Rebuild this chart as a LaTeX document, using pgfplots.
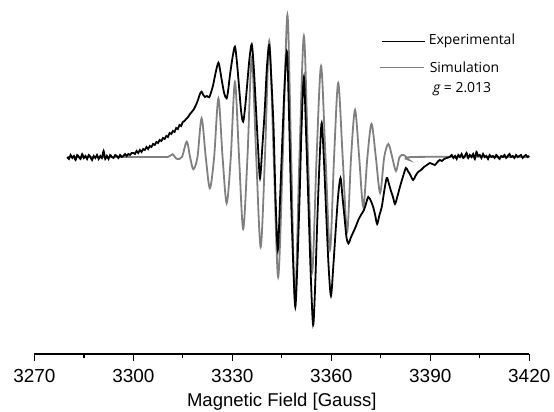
\documentclass[border=0pt]{standalone}
\usepackage{fontspec}
\setmainfont{Liberation Sans}
\newfontfamily\legfont{Open Sans}
\usepackage{pgfplots}
\pgfplotsset{compat=1.18}
\definecolor{simgray}{RGB}{128,128,128}

\begin{document}
\begin{tikzpicture}
\begin{axis}[
  scale only axis,
  width=495bp, height=354bp,
  xmin=3270, xmax=3420,
  ymin=-197, ymax=157,
  axis x line*=bottom,
  axis y line=none,
  axis line style={line width=1.4bp, black},
  xtick={3270,3300,3330,3360,3390,3420},
  minor x tick num=1,
  tick align=outside,
  major tick length=7bp,
  minor tick length=4.5bp,
  every tick/.style={line width=1.4bp, black},
  /pgf/number format/assume math mode=true,
  /pgf/number format/1000 sep={},
  tick label style={font=\fontsize{19}{22}\selectfont},
  xticklabel style={anchor=base, yshift=-21.5bp},
  xlabel={Magnetic Field [Gauss]},
  xlabel style={font=\fontsize{18.6}{22}\selectfont, anchor=base, at={(axis description cs:0.5,0)}, yshift=-53bp},
  clip=false,
]
% simulated spectrum
\addplot[simgray, line width=1.8bp, smooth] coordinates {
  (3280,0) (3308,0) (3310.5,0) (3311.9,2.7) (3312.6,0) (3313.3,-2) (3314.75,0)
  (3316.2,15.3) (3317.2,0) (3318.2,-12.3) (3319.45,0) (3320.7,38.7) (3321.95,0)
  (3323.2,-31.3) (3324.5,0) (3325.8,58.7) (3327.05,0) (3328.3,-46.3) (3329.55,0)
  (3330.8,75) (3332.05,0) (3333.3,-72) (3334.6,0) (3335.9,99) (3337.25,0)
  (3338.6,-90) (3339.9,0) (3341.2,116) (3342.55,0) (3343.9,-120) (3345.3,0)
  (3346.7,142) (3347.85,0) (3349.0,-143) (3350.35,0) (3351.7,121) (3352.95,0)
  (3354.2,-115) (3355.55,0) (3356.9,91) (3358.25,0) (3359.6,-93) (3360.85,0)
  (3362.1,74) (3363.45,0) (3364.8,-75) (3366.0,0) (3367.2,47) (3368.45,0)
  (3369.7,-50) (3370.95,0) (3372.2,33) (3373.5,0) (3374.8,-36) (3376.05,0)
  (3377.3,13) (3378.45,0) (3379.6,-14) (3380.7,0) (3381.8,2) (3382.7,0)
  (3383.6,-3) (3385,0) (3420,0)
};
% experimental spectrum
\addplot[black, line width=1.8bp, smooth] coordinates {
  (3280.0,0) (3280.5,-2) (3281.0,2) (3281.5,-1) (3282.0,1) (3282.5,-3) (3283.0,2)
  (3283.5,0) (3284.0,-2) (3284.5,3) (3285.0,-1) (3285.5,1) (3286.0,-2) (3286.5,2)
  (3287.0,0) (3287.5,-3) (3288.0,1) (3288.5,-1) (3289.0,2) (3289.5,-2) (3290.0,1)
  (3290.5,-1) (3291.0,6) (3291.5,-2) (3292.0,1) (3292.5,-2) (3293.0,2) (3293.5,0)
  (3294.0,-1) (3294.5,2) (3295.0,1) (3295.5,-1) (3296.0,2) (3296.5,0) (3297.0,1)
  (3297.5,3) (3298.0,1) (3298.5,3) (3299.0,2) (3299.5,4) (3300.0,4) (3300.5,3)
  (3301,6) (3301.5,4) (3302,7) (3302.5,5) (3303,8) (3303.5,7) (3304,10) (3304.5,8)
  (3305,11) (3305.5,10) (3306,13) (3306.5,12) (3307,15) (3307.5,14) (3308,17)
  (3308.5,16) (3309,19) (3309.5,18) (3310,21) (3310.5,20) (3311,24) (3311.5,23)
  (3312,26) (3312.5,25) (3313,29) (3313.5,28) (3314,32) (3314.5,31) (3315,35)
  (3315.5,36) (3316,38) (3316.6,40) (3317.2,43) (3318.2,47) (3319,52) (3319.6,57)
  (3320.2,63) (3320.7,65.3) (3321.2,62) (3321.7,60) (3322.3,61) (3323.0,59.7)
  (3323.6,65) (3324.2,72) (3325.0,85) (3325.8,94.3) (3326.4,85) (3326.9,75)
  (3327.6,63) (3328.3,58.7) (3328.8,68) (3329.3,82) (3330.1,100) (3330.8,110.3)
  (3331.4,95) (3332.0,72) (3332.7,45) (3333.3,35.3) (3333.9,50) (3334.5,72)
  (3335.2,98) (3335.9,112.7) (3336.5,90) (3337.2,47) (3337.8,10) (3338.4,-21.3)
  (3339.1,10) (3339.8,45) (3340.5,90) (3341.2,112) (3341.8,80) (3342.5,30)
  (3343.1,-40) (3343.8,-93) (3344.5,-40) (3345.2,20) (3345.9,75) (3346.6,105)
  (3347.2,40) (3347.8,-40) (3348.5,-110) (3349.1,-150) (3349.7,-110) (3350.4,-40)
  (3351.0,30) (3351.7,80) (3352.4,20) (3353.1,-50) (3353.8,-120) (3354.5,-168)
  (3355.1,-130) (3355.8,-60) (3356.5,0) (3357.1,34) (3357.8,-5) (3358.5,-60)
  (3359.2,-110) (3359.9,-139) (3360.6,-110) (3361.4,-70) (3362.1,-38) (3362.8,-21)
  (3363.4,-40) (3364.0,-60) (3364.6,-80) (3365.2,-86.5) (3366,-80) (3366.7,-75)
  (3367.5,-69) (3368.2,-63) (3369,-58) (3369.9,-53) (3370.5,-47) (3371.2,-40)
  (3372,-44) (3372.7,-50) (3373.3,-58) (3373.9,-67) (3374.6,-58) (3375.3,-50)
  (3376,-35) (3376.8,-21) (3377.4,-26) (3378.0,-33) (3378.7,-40) (3379.3,-47)
  (3380,-40) (3380.8,-30) (3381.7,-20) (3382.6,-11) (3383.2,-14) (3383.8,-17)
  (3384.8,-23) (3385.5,-19) (3386.3,-15) (3387.2,-13) (3388.1,-10) (3389,-8)
  (3389.9,-6) (3390.6,-7) (3391.4,-8) (3392.2,-5) (3392.9,-3) (3393.5,-4)
  (3394.2,-2) (3395,-1) (3395.9,0) (3396.5,2) (3397,-1) (3397.5,1) (3398,-2)
  (3398.5,2) (3399,0) (3399.5,3) (3400,-1) (3400.5,1) (3401,4) (3401.5,-1)
  (3402,2) (3402.5,0) (3403,3) (3403.5,-2) (3404,5) (3404.5,1) (3405,2)
  (3405.5,-1) (3406,3) (3406.5,0) (3407,1) (3407.5,-2) (3408,2) (3408.5,0)
  (3409,1) (3409.5,-1) (3410,2) (3410.5,0) (3411,-2) (3411.5,1) (3412,0)
  (3412.5,2) (3413,-1) (3413.5,1) (3414,3) (3414.5,0) (3415,1) (3415.5,-1)
  (3416,2) (3416.5,0) (3417,1) (3417.5,2) (3418,-1) (3418.5,1) (3419,2)
  (3419.5,0) (3420,1)
};
% legend
\draw[black, line width=1.5bp] (axis cs:3375.4,115.3) -- (axis cs:3388.5,115.3);
\node[anchor=west, inner sep=0pt, font=\legfont\fontsize{14}{16}\selectfont] at (axis cs:3389.5,116) {Experimental};
\draw[simgray, line width=1.5bp] (axis cs:3374.8,89.3) -- (axis cs:3388.0,89.3);
\node[anchor=west, inner sep=0pt, font=\legfont\fontsize{14}{16}\selectfont] at (axis cs:3389.8,89.3) {Simulation};
\node[anchor=west, inner sep=0pt, font=\legfont\fontsize{14}{16}\selectfont] at (axis cs:3390.8,67.7) {{\itshape g} = 2.013};
\coordinate (bbSW) at (axis cs:3259.6,-255);
\coordinate (bbNE) at (axis cs:3427.5,157);
\end{axis}
\pgfresetboundingbox
\path[use as bounding box] (bbSW) rectangle (bbNE);
\end{tikzpicture}
\end{document}
